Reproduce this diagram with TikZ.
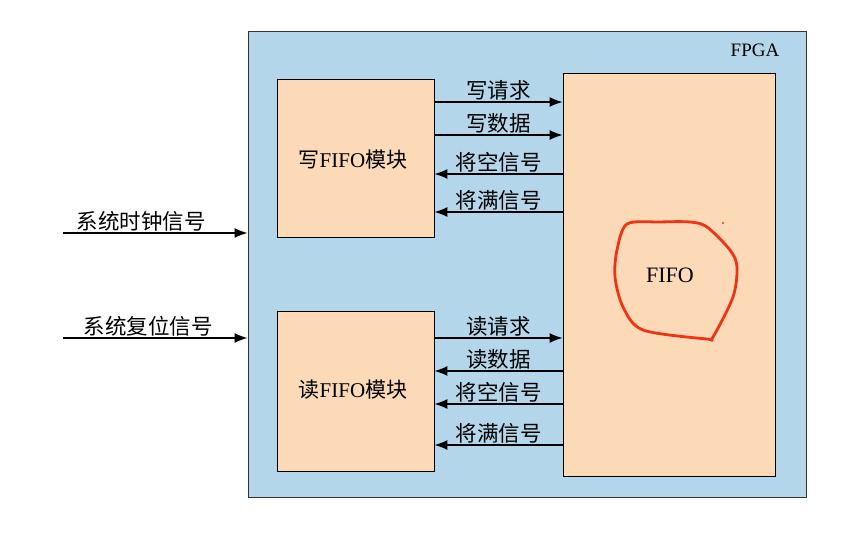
\documentclass[tikz,border=0pt]{standalone}
\usepackage{fontspec}
\setmainfont{Liberation Serif}
\newfontfamily\cjk{Noto Sans CJK SC}
\usetikzlibrary{arrows.meta}

\definecolor{fpgablue}{RGB}{180,214,234}
\definecolor{peach}{RGB}{252,217,183}
\definecolor{inkred}{RGB}{238,52,20}

\tikzset{
  modbox/.style={draw=black, fill=peach, line width=0.9pt, inner sep=0pt},
  modtext/.style={font=\fontsize{21}{21}\selectfont},
  sig/.style={line width=1.3pt, -{Latex[length=13pt,width=10pt]}},
  siglabel/.style={above=1pt, inner sep=0pt, font=\cjk\fontsize{21.5}{21.5}\selectfont},
}

\begin{document}
\begin{tikzpicture}[x=1pt, y=-1pt]
    \useasboundingbox (0,0) rectangle (861,553);

    % FPGA frame
    \node[draw=black!80, fill=fpgablue, line width=1pt, inner sep=0pt,
          minimum width=558, minimum height=465] (fpga) at (527,264.5) {};
    \node[font=\fontsize{19}{19}\selectfont] (fpgalbl) at (755,50) {FPGA};

    % Modules
    \node[modbox, minimum width=157, minimum height=158] (wr) at (355.5,158) {};
    \node[modtext] (wrlbl) at (353,160) {{\cjk 写}FIFO{\cjk 模块}};
    \node[modbox, minimum width=157, minimum height=160] (rd) at (355.5,391) {};
    \node[modtext] (rdlbl) at (353,390) {{\cjk 读}FIFO{\cjk 模块}};
    \node[modbox, minimum width=212, minimum height=403] (fifo) at (669,274.5) {};
    \node[font=\fontsize{22}{22}\selectfont] (fifolbl) at (670,275) {FIFO};

    % Write side signals
    \draw[sig] (wr.east |- 0,102) -- (fifo.west |- 0,102) node[midway, siglabel] {写请求};
    \draw[sig] (wr.east |- 0,135) -- (fifo.west |- 0,135) node[midway, siglabel] {写数据};
    \draw[sig] (fifo.west |- 0,174) -- (wr.east |- 0,174) node[midway, siglabel] {将空信号};
    \draw[sig] (fifo.west |- 0,212) -- (wr.east |- 0,212) node[midway, siglabel] {将满信号};

    % Read side signals
    \draw[sig] (rd.east |- 0,338) -- (fifo.west |- 0,338) node[midway, siglabel] {读请求};
    \draw[sig] (fifo.west |- 0,371) -- (rd.east |- 0,371) node[midway, siglabel] {读数据};
    \draw[sig] (fifo.west |- 0,404) -- (rd.east |- 0,404) node[midway, siglabel] {将空信号};
    \draw[sig] (fifo.west |- 0,445) -- (rd.east |- 0,445) node[midway, siglabel] {将满信号};

    % System inputs
    \coordinate (clkin) at (63,233);
    \coordinate (rstin) at (63,338);
    \draw[sig] (clkin) -- (fpga.west |- clkin) node[midway, siglabel, xshift=-14pt] {系统时钟信号};
    \draw[sig] (rstin) -- (fpga.west |- rstin) node[midway, siglabel, xshift=-7pt] {系统复位信号};

    % Hand-drawn marking
    \draw[inkred, line width=2.8pt, line join=round]
        plot[smooth cycle, tension=0.5] coordinates {
        (627,224) (660,222) (690,222) (707,227) (730,250) (737,267)
        (733,297) (713,337) (707,339) (643,330) (623,307) (615,277)
        (617,250)};
    \fill[inkred] (723,223) circle (1.2);
\end{tikzpicture}
\end{document}
